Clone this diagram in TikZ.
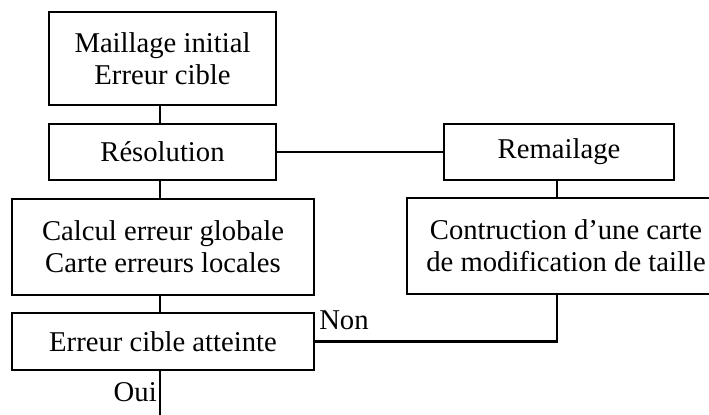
\documentclass[tikz,border=0pt]{standalone}
\usepackage{fontspec}
\setmainfont{Liberation Serif}
\begin{document}
\begin{tikzpicture}[x=0.75pt,y=-0.75pt,
  box/.style={draw,line width=1.6pt,inner sep=0pt,align=center,
    font=\fontsize{21.5}{24}\selectfont},
  conn/.style={line width=1.6pt},
  lbl/.style={inner sep=0pt,font=\fontsize{21.5}{24}\selectfont}]
\useasboundingbox (0,0) rectangle (709,414);
\clip (0,0) rectangle (709,414);
\node[box,minimum width=170.25pt,minimum height=69.75pt] (init) at (162.5,58.5) {Maillage initial\\Erreur cible};
\node[box,minimum width=170.25pt,minimum height=42pt] (reso) at (162.5,152) {Résolution};
\node[box,minimum width=226.5pt,minimum height=72pt] (calc) at (163,247) {Calcul erreur globale\\Carte erreurs locales};
\node[box,minimum width=226.5pt,minimum height=42.75pt] (test) at (163,341.5) {Erreur cible atteinte};
\node[box,minimum width=172.5pt,minimum height=42pt] (rem) at (559,152) {Remailage};
\node[box,minimum width=238.5pt,minimum height=72pt] (contr) at (566,246) {Contruction d’une carte\\de modification de taille};
\coordinate (bot) at (160,418);
\draw[conn] (init.south -| bot) -- (reso.north -| bot);
\draw[conn] (reso.south -| bot) -- (calc.north -| bot);
\draw[conn] (calc.south -| bot) -- (test.north -| bot);
\draw[conn] (test.south -| bot) -- (bot);
\draw[conn] (reso.east) -- (rem.west);
\coordinate (vx) at (557,0);
\draw[conn] (rem.south -| vx) -- (contr.north -| vx);
\draw[conn] (contr.south -| vx) |- (test.east);
\node[lbl,anchor=base west] (non) at (319,329) {Non};
\node[lbl,anchor=base east] (oui) at (157,401) {Oui};
\end{tikzpicture}
\end{document}
